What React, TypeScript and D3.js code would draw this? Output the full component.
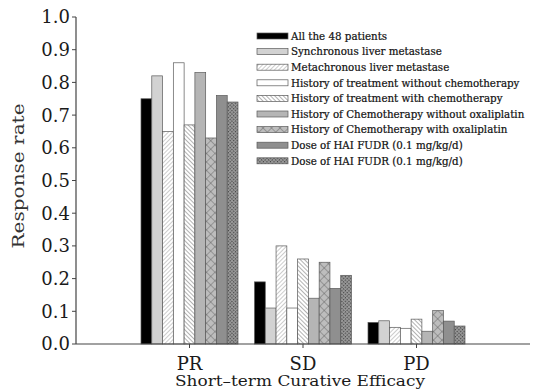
import React from "react";
import * as d3 from "d3";

const categories = ["PR", "SD", "PD"];
const seriesNames = [
  "All the 48 patients",
  "Synchronous liver metastase",
  "Metachronous liver metastase",
  "History of treatment without chemotherapy",
  "History of treatment with chemotherapy",
  "History of Chemotherapy without oxaliplatin",
  "History of Chemotherapy with oxaliplatin",
  "Dose of HAI FUDR (0.1 mg/kg/d)",
  "Dose of HAI FUDR (0.1 mg/kg/d)",
];
const prValues = [0.75, 0.82, 0.65, 0.86, 0.67, 0.83, 0.63, 0.76, 0.74];
const sdValues = [0.19, 0.11, 0.30, 0.11, 0.26, 0.14, 0.25, 0.17, 0.21];
const pdValues = [0.066, 0.071, 0.051, 0.048, 0.076, 0.039, 0.102, 0.07, 0.055];
const yTicks = [0, 0.1, 0.2, 0.3, 0.4, 0.5, 0.6, 0.7, 0.8, 0.9, 1.0];

const fills = [
  "#000000",
  "#d2d2d2",
  "url(#pMeta)",
  "#ffffff",
  "url(#pHatch)",
  "#b5b5b5",
  "url(#pCross)",
  "#8f8f8f",
  "url(#pDark)",
];

const W = 533;
const H = 391;
const left = 76;
const right = 530;
const top = 17;
const bottom = 344;
const font = "'DejaVu Serif', 'Liberation Serif', serif";

export default function App() {
  const valuesByCat = [prValues, sdValues, pdValues];
  const x0 = d3.scalePoint<string>().domain(categories).range([left, right]).padding(1);
  const x1 = d3
    .scaleBand<number>()
    .domain(d3.range(seriesNames.length))
    .range([-48.5, 48.5]);
  const y = d3.scaleLinear().domain([0, 1]).range([bottom, top]);

  return (
    <svg width={W} height={H} style={{ display: "block", position: "absolute", left: 0, top: 0 }}>
      <defs>
        <pattern id="pMeta" width="3" height="3" patternUnits="userSpaceOnUse" patternTransform="rotate(45)">
          <rect width="3" height="3" fill="#ffffff" />
          <line x1="0" y1="0" x2="0" y2="3" stroke="#9a9a9a" strokeWidth="1" />
        </pattern>
        <pattern id="pHatch" width="3" height="3" patternUnits="userSpaceOnUse" patternTransform="rotate(-45)">
          <rect width="3" height="3" fill="#ffffff" />
          <line x1="0" y1="0" x2="0" y2="3" stroke="#555" strokeWidth="0.9" />
        </pattern>
        <pattern id="pCross" width="6" height="6" patternUnits="userSpaceOnUse" patternTransform="rotate(45)">
          <rect width="6" height="6" fill="#bdbdbd" />
          <line x1="0" y1="0" x2="0" y2="6" stroke="#555" strokeWidth="0.8" />
          <line x1="0" y1="0" x2="6" y2="0" stroke="#555" strokeWidth="0.8" />
        </pattern>
        <pattern id="pDark" width="2.5" height="2.5" patternUnits="userSpaceOnUse" patternTransform="rotate(45)">
          <rect width="2.5" height="2.5" fill="#9a9a9a" />
          <rect width="1.25" height="1.25" fill="#444" />
        </pattern>
      </defs>
      <rect width={W} height={H} fill="#ffffff" />

      {/* bars */}
      {categories.map((c, ci) => (
        <g key={c} transform={`translate(${x0(c)},0)`}>
          {valuesByCat[ci].map((v, si) => (
            <rect
              key={si}
              x={x1(si)!}
              y={y(v)}
              width={x1.bandwidth()}
              height={bottom - y(v)}
              fill={fills[si]}
              stroke="#5a5a5a"
              strokeWidth={0.7}
            />
          ))}
        </g>
      ))}

      {/* y axis */}
      <line x1={left} x2={left} y1={top} y2={bottom} stroke="#444" strokeWidth={1.2} />
      {yTicks.map((t) => (
        <g key={t}>
          <line x1={left - 4} x2={left} y1={y(t)} y2={y(t)} stroke="#444" strokeWidth={1} />
          <text
            x={left - 6}
            y={y(t)}
            dy="0.36em"
            textAnchor="end"
            fontFamily={font}
            fontSize={18}
            fill="#1a1a1a"
          >
            {t.toFixed(1)}
          </text>
        </g>
      ))}
      <text
        transform={`translate(24,176) rotate(-90)`}
        textAnchor="middle"
        fontFamily={font}
        fontSize={17}
        textLength={145}
        lengthAdjust="spacingAndGlyphs"
        fill="#333"
      >
        Response rate
      </text>

      {/* x axis */}
      <line x1={left} x2={right} y1={bottom} y2={bottom} stroke="#444" strokeWidth={1.2} />
      {categories.map((c) => (
        <g key={c}>
          <line x1={x0(c)!} x2={x0(c)!} y1={bottom} y2={bottom + 4} stroke="#444" strokeWidth={1} />
          <text
            x={x0(c)!}
            y={370}
            textAnchor="middle"
            fontFamily={font}
            fontSize={18}
            fill="#1a1a1a"
          >
            {c}
          </text>
        </g>
      ))}
      <text
        x={300}
        y={386}
        textAnchor="middle"
        fontFamily={font}
        fontSize={15.5}
        textLength={250}
        lengthAdjust="spacingAndGlyphs"
        fill="#1a1a1a"
      >
        Short–term Curative Efficacy
      </text>

      {/* legend */}
      {seriesNames.map((s, i) => {
        const ly = 36 + i * 15.6;
        return (
          <g key={i}>
            <rect
              x={257}
              y={ly - 3}
              width={31}
              height={6}
              fill={fills[i]}
              stroke="#5a5a5a"
              strokeWidth={0.7}
            />
            <text
              x={291}
              y={ly}
              dy="0.36em"
              fontFamily={font}
              fontSize={10.3}
              fill="#111"
              stroke="#111"
              strokeWidth={0.2}
            >
              {s}
            </text>
          </g>
        );
      })}
    </svg>
  );
}
